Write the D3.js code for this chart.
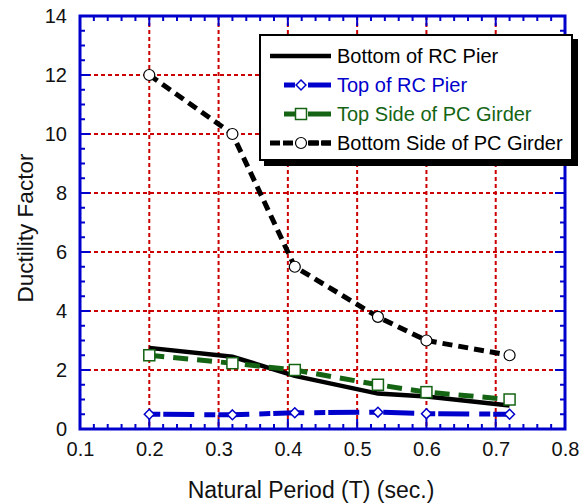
<!DOCTYPE html>
<html>
<head>
<meta charset="utf-8">
<script src="https://cdn.jsdelivr.net/npm/d3@7"></script>
<style>
body { margin:0; background:#fff; }
text { font-family: "Liberation Sans", Arial, sans-serif; }
</style>
</head>
<body>
<div id="chart"></div>
<script>
var periods = [0.2, 0.32, 0.41, 0.53, 0.6, 0.72];
var bottomRC = [2.75, 2.45, 1.8, 1.2, 1.1, 0.8];
var topRC = [0.5, 0.48, 0.55, 0.57, 0.52, 0.5];
var topPC = [2.5, 2.23, 2.0, 1.5, 1.25, 1.0];
var bottomPC = [12, 10, 5.5, 3.8, 3.0, 2.5];
var xTicks = [0.1, 0.2, 0.3, 0.4, 0.5, 0.6, 0.7, 0.8];
var yTicks = [0, 2, 4, 6, 8, 10, 12, 14];
var seriesNames = ["Bottom of RC Pier", "Top of RC Pier", "Top Side of PC Girder", "Bottom Side of PC Girder"];

var margin = { left:80, right:19, top:16, bottom:75 };
var width = 584 - margin.left - margin.right,
	height = 504 - margin.top - margin.bottom;

var svg = d3.select("#chart").append("svg")
	.attr("width", 584)
	.attr("height", 504);

var g = svg.append("g")
	.attr("transform", "translate(" + margin.left + "," + margin.top + ")");

var x = d3.scaleLinear().domain([0.1, 0.8]).range([0, width]);
var y = d3.scaleLinear().domain([0, 14]).range([height, 0]);

var red = "#cc0000", blue = "#0000cc", green = "#146414";

// grid
g.selectAll(".vgrid").data(xTicks.slice(1, -1)).enter().append("line")
	.attr("x1", d => x(d)).attr("x2", d => x(d))
	.attr("y1", 0).attr("y2", height)
	.attr("stroke", red).attr("stroke-width", 2).attr("stroke-dasharray", "4,3");
g.selectAll(".hgrid").data(yTicks).enter().append("line")
	.attr("y1", d => y(d)).attr("y2", d => y(d))
	.attr("x1", 0).attr("x2", width)
	.attr("stroke", red).attr("stroke-width", 2).attr("stroke-dasharray", "4,3");

// ticks on all sides, pointing inward
var xMinor = d3.range(0.1, 0.8001, 0.02);
var yMinor = d3.range(0, 14.001, 0.5);
function tickLen(v, step) { return Math.abs(v / step - Math.round(v / step)) < 1e-6 ? 10 : 5; }

var frame = g.append("g").attr("stroke", blue).attr("stroke-width", 2);
xMinor.forEach(function(v) {
	var len = tickLen(v, 0.1);
	frame.append("line").attr("x1", x(v)).attr("x2", x(v)).attr("y1", height).attr("y2", height - len);
	frame.append("line").attr("x1", x(v)).attr("x2", x(v)).attr("y1", 0).attr("y2", len);
});
yMinor.forEach(function(v) {
	var len = tickLen(v, 2);
	frame.append("line").attr("y1", y(v)).attr("y2", y(v)).attr("x1", 0).attr("x2", len);
	frame.append("line").attr("y1", y(v)).attr("y2", y(v)).attr("x1", width).attr("x2", width - len);
});
g.append("rect").attr("x", 0).attr("y", 0).attr("width", width).attr("height", height)
	.attr("fill", "none").attr("stroke", blue).attr("stroke-width", 3);

// tick labels
var xAxis = d3.axisBottom(x).tickValues(xTicks).tickSize(0).tickPadding(13).tickFormat(d3.format(".1f"));
var gx = g.append("g").attr("transform", "translate(0," + height + ")").call(xAxis);
gx.select(".domain").remove();
gx.selectAll("text").attr("font-size", "20px").attr("fill", "#111")
	.style("font-family", "Liberation Sans, Arial, sans-serif");

var yAxis = d3.axisLeft(y).tickValues(yTicks).tickSize(0).tickPadding(13).tickFormat(d3.format("d"));
var gy = g.append("g").call(yAxis);
gy.select(".domain").remove();
gy.selectAll("text").attr("font-size", "20px").attr("fill", "#111")
	.style("font-family", "Liberation Sans, Arial, sans-serif");

// axis titles
svg.append("text")
	.attr("x", 311).attr("y", 498)
	.attr("text-anchor", "middle").attr("font-size", "23px").attr("fill", "#111")
	.text("Natural Period (T) (sec.)");
svg.append("text")
	.attr("transform", "translate(33,228) rotate(-90)")
	.attr("text-anchor", "middle").attr("font-size", "22.5px").attr("fill", "#111")
	.text("Ductility Factor");

// series
var series = [
	{ name: seriesNames[0], values: bottomRC, color: "#000", width: 4.5, dash: null, marker: null, text: "#000" },
	{ name: seriesNames[1], values: topRC, color: blue, width: 5, dash: "11,3,31,10", marker: "diamond", text: blue },
	{ name: seriesNames[2], values: topPC, color: green, width: 5, dash: "15,9", marker: "square", text: green },
	{ name: seriesNames[3], values: bottomPC, color: "#000", width: 5, dash: "10,6", marker: "circle", text: "#000" }
];

var line = d3.line().x(d => x(d[0])).y(d => y(d[1]));

function drawMarker(sel, type, cx, cy, color) {
	if (type == "diamond") {
		sel.append("path").attr("d", d3.symbol(d3.symbolDiamond2, 62)())
			.attr("transform", "translate(" + cx + "," + cy + ")")
			.attr("fill", "#fff").attr("stroke", color).attr("stroke-width", 1.5);
	} else if (type == "square") {
		sel.append("rect").attr("x", cx - 5.5).attr("y", cy - 5.5).attr("width", 11).attr("height", 11)
			.attr("fill", "#fff").attr("stroke", color).attr("stroke-width", 1.5);
	} else if (type == "circle") {
		sel.append("circle").attr("cx", cx).attr("cy", cy).attr("r", 5.5)
			.attr("fill", "#fff").attr("stroke", "#000").attr("stroke-width", 1.2);
	}
}

series.forEach(function(s) {
	var pts = periods.map((p, i) => [p, s.values[i]]);
	g.append("path").datum(pts).attr("d", line)
		.attr("fill", "none").attr("stroke", s.color).attr("stroke-width", s.width)
		.attr("stroke-dasharray", s.dash);
	if (s.marker) {
		pts.forEach(function(p) { drawMarker(g, s.marker, x(p[0]), y(p[1]), s.color); });
	}
});

// legend
var lg = svg.append("g").attr("transform", "translate(260,35)");
lg.append("rect").attr("x", 4).attr("y", 4).attr("width", 314).attr("height", 127).attr("fill", "#000");
lg.append("rect").attr("x", 0).attr("y", 0).attr("width", 312).attr("height", 125)
	.attr("fill", "#fff").attr("stroke", "#000").attr("stroke-width", 2);

series.forEach(function(s, i) {
	var yy = 21 + i * 29;
	var x0 = (i == 1 || i == 2) ? 24 : 10;
	lg.append("line").attr("x1", x0).attr("x2", 71).attr("y1", yy).attr("y2", yy)
		.attr("stroke", s.color).attr("stroke-width", s.width)
		.attr("stroke-dasharray", s.dash ? (i == 3 ? "10,3" : "11,100") : null);
	if (s.marker) {
		lg.append("line").attr("x1", 48).attr("x2", 71).attr("y1", yy).attr("y2", yy)
			.attr("stroke", s.color).attr("stroke-width", s.width)
			.attr("stroke-dasharray", i == 3 ? "10,3" : null);
		drawMarker(lg, s.marker, 41, yy, s.color);
	}
	lg.append("text").attr("x", 77).attr("y", yy + 7)
		.attr("font-size", "20px").attr("fill", s.text).text(s.name);
});
</script>
</body>
</html>
